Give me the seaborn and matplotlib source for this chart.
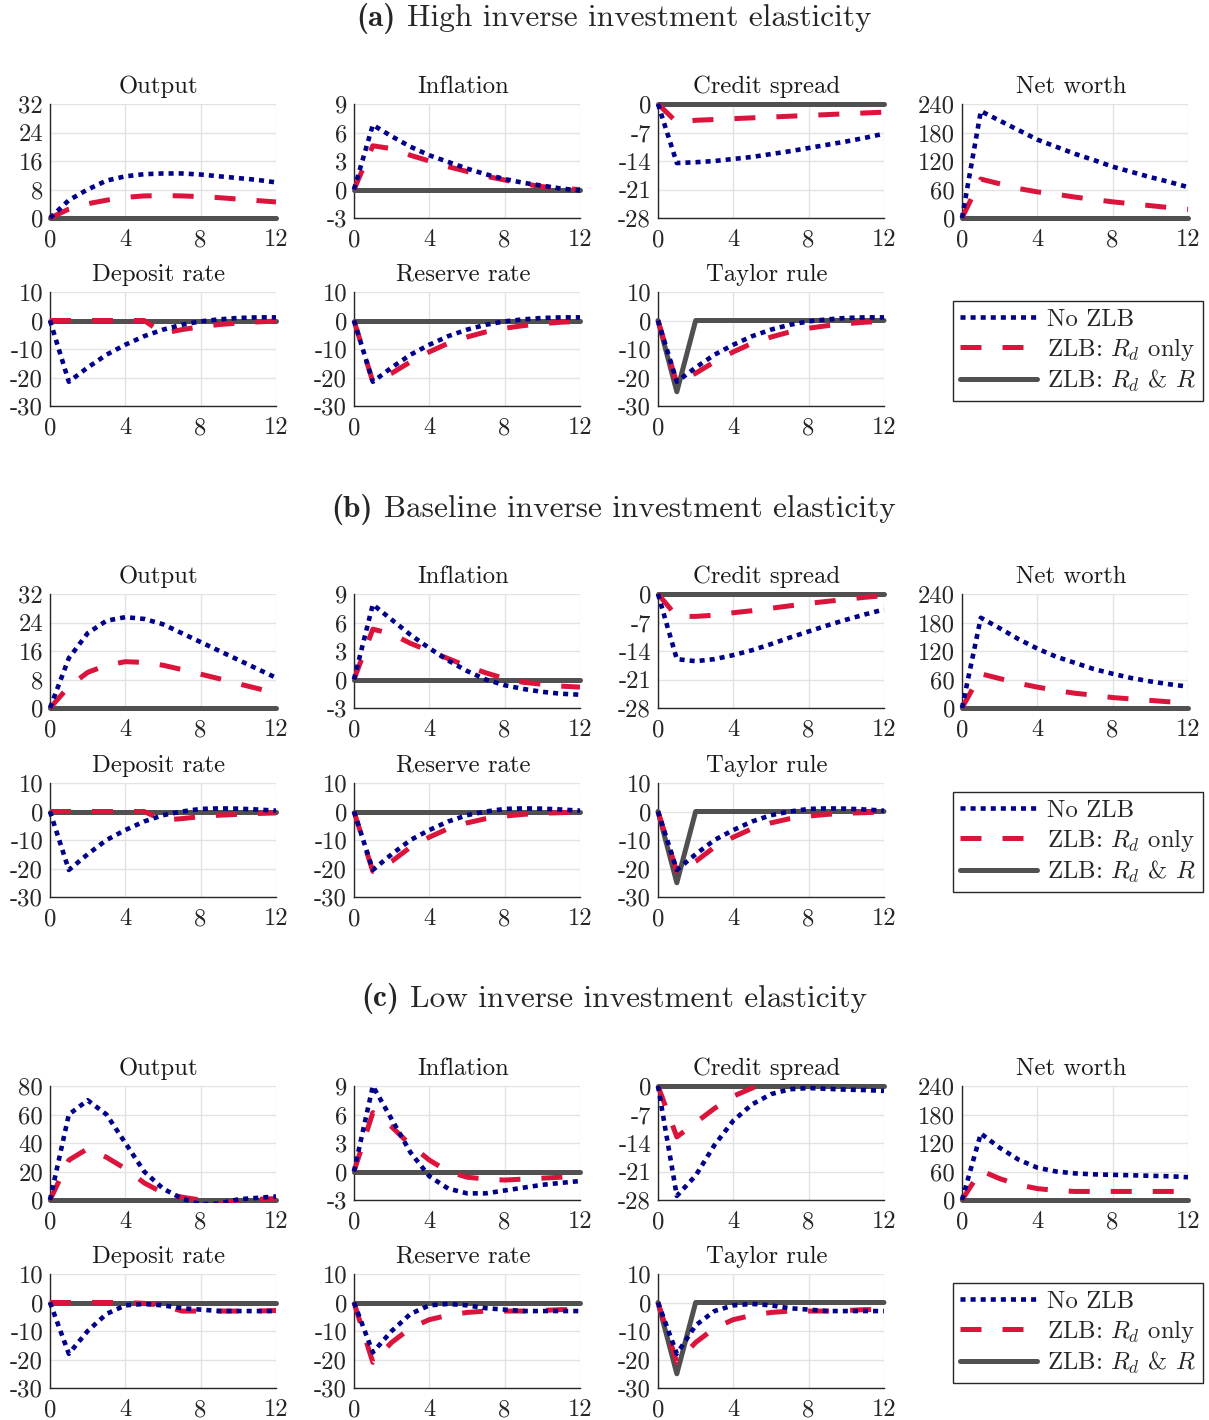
import numpy as np
import pandas as pd
import matplotlib
matplotlib.use("Agg")
import matplotlib.pyplot as plt
from matplotlib.lines import Line2D
from matplotlib.transforms import Bbox, TransformedBbox
import seaborn as sns

sns.set_theme(style="white")
plt.rcParams['font.family'] = ['cmr10', 'DejaVu Serif']
plt.rcParams['mathtext.fontset'] = 'cm'
plt.rcParams['axes.unicode_minus'] = False
plt.rcParams['axes.formatter.use_mathtext'] = True

# ---------------- data ----------------
quarters = list(range(13))
panel_tags = ["(a)", "(b)", "(c)"]
panel_titles = ["High inverse investment elasticity",
                "Baseline inverse investment elasticity",
                "Low inverse investment elasticity"]
variables = ["Output", "Inflation", "Credit spread", "Net worth",
             "Deposit rate", "Reserve rate", "Taylor rule"]
series_labels = ["No ZLB", r"ZLB: $R_d$ only", r"ZLB: $R_d$ & $R$"]

yticks_output_ab = [0, 8, 16, 24, 32]
yticks_output_c = [0, 20, 40, 60, 80]
yticks_inflation = [-3, 0, 3, 6, 9]
yticks_spread = [-28, -21, -14, -7, 0]
yticks_networth = [0, 60, 120, 180, 240]
yticks_rates = [-30, -20, -10, 0, 10]
xticks = [0, 4, 8, 12]

zeros = [0] * 13
taylor_both = [0, -25, 0, 0, 0, 0, 0, 0, 0, 0, 0, 0, 0]

# (a) High inverse investment elasticity
a_output_nozlb = [0, 5, 8, 10.5, 11.7, 12.3, 12.5, 12.5, 12.2, 11.7, 11.2, 10.7, 10]
a_output_rd = [0, 2.5, 4, 5, 5.8, 6.2, 6.3, 6.2, 6, 5.7, 5.3, 4.9, 4.5]
a_infl_nozlb = [0, 6.8, 5.6, 4.5, 3.6, 2.9, 2.2, 1.6, 1.1, 0.7, 0.4, 0.1, -0.1]
a_infl_rd = [0, 4.6, 4.3, 3.6, 3.0, 2.4, 1.9, 1.4, 1.0, 0.6, 0.3, 0.1, 0.0]
a_spread_nozlb = [0, -14.5, -14.3, -14, -13.5, -13, -12.3, -11.6, -10.8, -10, -9.2, -8.3, -7.3]
a_spread_rd = [0, -4.5, -4, -3.8, -3.6, -3.4, -3.2, -3.0, -2.8, -2.6, -2.4, -2.2, -2.0]
a_nw_nozlb = [0, 225, 205, 185, 165, 150, 135, 122, 108, 97, 86, 76, 65]
a_nw_rd = [0, 82, 72, 62, 55, 50, 44, 39, 34, 30, 26, 22, 18]
a_dep_nozlb = [0, -21.5, -16.5, -12, -8.5, -5.5, -3.2, -1.5, -0.3, 0.4, 0.9, 1.1, 1.1]
a_dep_rd = [0, 0, 0, 0, 0, 0, -4.5, -3.2, -2.2, -1.4, -0.9, -0.5, -0.2]
a_res_nozlb = [0, -21.5, -16.5, -12, -8.5, -5.5, -3.2, -1.5, -0.3, 0.4, 0.9, 1.1, 1.1]
a_res_rd = [0, -21.5, -18.5, -14.5, -11, -8, -5.8, -4, -2.7, -1.8, -1.1, -0.6, -0.3]
a_tay_nozlb = [0, -21.5, -16.5, -12, -8.5, -5.5, -3.2, -1.5, -0.3, 0.4, 0.9, 1.1, 1.1]
a_tay_rd = [0, -22, -18.5, -14.5, -11, -8, -5.8, -4, -2.7, -1.8, -1.1, -0.6, -0.3]

# (b) Baseline inverse investment elasticity
b_output_nozlb = [0, 14, 21, 24.5, 25.5, 25, 23.5, 21, 18.5, 16, 13.5, 11, 8.5]
b_output_rd = [0, 6, 10, 12, 13, 12.8, 12, 10.8, 9.5, 8.2, 6.8, 5.5, 4.2]
b_infl_nozlb = [0, 7.9, 6.3, 4.7, 3.3, 2.0, 0.9, 0, -0.6, -1.0, -1.3, -1.5, -1.6]
b_infl_rd = [0, 5.3, 4.8, 3.8, 3.0, 2.2, 1.4, 0.7, 0.1, -0.3, -0.5, -0.7, -0.8]
b_spread_nozlb = [0, -16, -16.5, -16, -15, -13.8, -12.3, -10.7, -9.2, -7.7, -6.3, -5, -3.8]
b_spread_rd = [0, -5.5, -5.5, -5.2, -4.6, -4.1, -3.5, -2.9, -2.3, -1.8, -1.3, -0.8, -0.4]
b_nw_nozlb = [0, 190, 168, 145, 125, 108, 95, 82, 72, 63, 56, 50, 45]
b_nw_rd = [0, 72, 62, 52, 44, 37, 31, 27, 22, 19, 16, 13, 11]
b_dep_nozlb = [0, -20.5, -15, -10, -6.5, -3.5, -1.3, 0, 0.9, 1.1, 1.0, 0.7, 0.3]
b_dep_rd = [0, 0, 0, 0, 0, 0, -3, -2.5, -1.8, -1.3, -1, -0.7, -0.5]
b_res_nozlb = [0, -20.5, -15, -10, -6.5, -3.5, -1.3, 0, 0.9, 1.1, 1.0, 0.7, 0.3]
b_res_rd = [0, -21, -17.5, -12.5, -9, -6, -4, -2.5, -1.6, -1.0, -0.6, -0.4, -0.2]
b_tay_nozlb = [0, -20.5, -15, -10, -6.5, -3.5, -1.3, 0, 0.9, 1.1, 1.0, 0.7, 0.3]
b_tay_rd = [0, -21, -17.5, -12.5, -9, -6, -4, -2.5, -1.6, -1.0, -0.6, -0.4, -0.2]

# (c) Low inverse investment elasticity
c_output_nozlb = [0, 60, 70, 60, 40, 20, 8, 1, -3, -2.5, 0.5, 1.5, 2.5]
c_output_rd = [0, 28, 36, 30, 22, 12, 5, 2, 0, -2.5, -1, 0.5, 1]
c_infl_nozlb = [0, 9, 5.5, 2.0, -0.5, -1.8, -2.3, -2.3, -2, -1.7, -1.4, -1.2, -1.0]
c_infl_rd = [0, 6.2, 4.7, 2.8, 1.2, 0, -0.6, -0.8, -0.9, -0.8, -0.7, -0.6, -0.5]
c_spread_nozlb = [0, -27, -22, -14.5, -8.5, -4.5, -2.0, -0.8, -0.5, -0.7, -0.9, -1.0, -1.2]
c_spread_rd = [0, -12.5, -9, -5.5, -2.5, -0.5, 1.5, 2, 2, 2, 2, 2, 2]
c_nw_nozlb = [0, 140, 110, 85, 68, 60, 56, 54, 53, 52, 51, 50, 48]
c_nw_rd = [0, 62, 45, 32, 24, 20, 18, 18, 18, 18, 18, 18, 18]
c_dep_nozlb = [0, -18, -10, -4, -1, -0.5, -1, -2, -2.5, -3, -3, -3, -3]
c_dep_rd = [0, 0, 0, 0, 0, -0.3, -1, -3, -3, -3, -3, -3, -2.8]
c_res_nozlb = [0, -17.5, -10, -4, -1, -0.5, -1, -2, -2.5, -3, -3, -3, -3]
c_res_rd = [0, -21, -14, -9, -6, -4.5, -3.5, -3, -3, -3, -2.8, -2.5, -2.5]
c_tay_nozlb = [0, -18, -8, -3, -1, -0.5, -1, -2, -2.5, -3, -3, -3, -3]
c_tay_rd = [0, -21, -14, -9, -6, -4.5, -3.5, -3, -3, -3, -2.8, -2.5, -2.5]

panels = [
    {"Output": (a_output_nozlb, a_output_rd, zeros), "Inflation": (a_infl_nozlb, a_infl_rd, zeros),
     "Credit spread": (a_spread_nozlb, a_spread_rd, zeros), "Net worth": (a_nw_nozlb, a_nw_rd, zeros),
     "Deposit rate": (a_dep_nozlb, a_dep_rd, zeros), "Reserve rate": (a_res_nozlb, a_res_rd, zeros),
     "Taylor rule": (a_tay_nozlb, a_tay_rd, taylor_both)},
    {"Output": (b_output_nozlb, b_output_rd, zeros), "Inflation": (b_infl_nozlb, b_infl_rd, zeros),
     "Credit spread": (b_spread_nozlb, b_spread_rd, zeros), "Net worth": (b_nw_nozlb, b_nw_rd, zeros),
     "Deposit rate": (b_dep_nozlb, b_dep_rd, zeros), "Reserve rate": (b_res_nozlb, b_res_rd, zeros),
     "Taylor rule": (b_tay_nozlb, b_tay_rd, taylor_both)},
    {"Output": (c_output_nozlb, c_output_rd, zeros), "Inflation": (c_infl_nozlb, c_infl_rd, zeros),
     "Credit spread": (c_spread_nozlb, c_spread_rd, zeros), "Net worth": (c_nw_nozlb, c_nw_rd, zeros),
     "Deposit rate": (c_dep_nozlb, c_dep_rd, zeros), "Reserve rate": (c_res_nozlb, c_res_rd, zeros),
     "Taylor rule": (c_tay_nozlb, c_tay_rd, taylor_both)},
]

def yticks_for(panel_idx, var):
    if var == "Output":
        return yticks_output_c if panel_idx == 2 else yticks_output_ab
    return {"Inflation": yticks_inflation, "Credit spread": yticks_spread,
            "Net worth": yticks_networth}.get(var, yticks_rates)

# ---------------- styling ----------------
W, H = 1209, 1420
fig = plt.figure(figsize=(W / 100, H / 100), dpi=100)
renderer = fig.canvas.get_renderer()
FS = 17.8
TFS = 22.5

col_left = [50, 354, 658, 962]
ax_w, ax_h = 226, 114
row_tops = [[104, 292], [594, 783], [1086, 1274]]
title_y = [18, 509, 999]
legend_tops = [301, 792, 1283]

c_blue = "#00008B"
c_red = "#DC143C"
c_gray = "#505050"
styles = [
    dict(color=c_blue, lw=3.3, linestyle=(0, (1.1, 1.1))),
    dict(color=c_red, lw=3.6, linestyle=(0, (4.2, 4.2))),
    dict(color=c_gray, lw=3.6, linestyle="-"),
]
# clip lines like MATLAB: data outside the limits hidden, but lines on the edge keep full width
ex, ey = 4.0 / ax_w, 3.0 / ax_h

for p, panel in enumerate(panels):
    # panel title: bold tag + regular text, centred as a whole
    yfig = 1 - title_y[p] / H
    t1 = fig.text(0, yfig, panel_tags[p], ha="left", va="center", fontsize=TFS,
                  family=["cmb10", "DejaVu Serif"])
    t2 = fig.text(0, yfig, panel_titles[p], ha="left", va="center", fontsize=TFS)
    w1 = t1.get_window_extent(renderer).width
    w2 = t2.get_window_extent(renderer).width
    gap = 0.36 * TFS * 100 / 72
    total = w1 + gap + w2
    x0 = 614 - total / 2
    t1.set_x(x0 / W)
    t2.set_x((x0 + w1 + gap) / W)

    for k, var in enumerate(variables):
        r, c = divmod(k, 4)
        left = col_left[c] / W
        bottom = 1 - (row_tops[p][r] + ax_h) / H
        ax = fig.add_axes([left, bottom, ax_w / W, ax_h / H])
        yt = yticks_for(p, var)
        nozlb, rd, both = panel[var]
        # solid first, then dashed, then dotted on top
        for vals, st, z in ((both, styles[2], 2), (rd, styles[1], 3), (nozlb, styles[0], 4)):
            sns.lineplot(x=quarters, y=vals, ax=ax, color=st["color"], lw=st["lw"],
                         linestyle=st["linestyle"], zorder=z)
        clip = TransformedBbox(Bbox([[-ex, -ey], [1 + ex, 1 + ey]]), ax.transAxes)
        for ln in ax.get_lines():
            ln.set_clip_box(clip)
        ax.set_xlim(0, 12)
        ax.set_ylim(yt[0], yt[-1])
        ax.set_xticks(xticks)
        ax.set_xticklabels([str(v) for v in xticks])
        ax.set_yticks(yt)
        ax.set_yticklabels([str(v) for v in yt])
        ax.grid(True, color="#E3E3E3", lw=1.0)
        ax.set_axisbelow(True)
        for s in ("top", "right"):
            ax.spines[s].set_visible(False)
        for s in ("left", "bottom"):
            ax.spines[s].set_color("#262626")
            ax.spines[s].set_linewidth(1.0)
            ax.spines[s].set_zorder(1)
        ax.tick_params(axis="both", length=0, labelsize=FS, colors="#262626", pad=5)
        ax.tick_params(axis="x", pad=8)
        ax.set_title(var, fontsize=FS, pad=8, color="#1a1a1a", x=0.482)
        ax.set_xlabel("")
        ax.set_ylabel("")

    handles = [Line2D([0], [0], color=s["color"], lw=s["lw"], linestyle=s["linestyle"]) for s in styles]
    leg = fig.legend(handles, series_labels, loc="upper left",
                     bbox_to_anchor=(953 / W, 1 - legend_tops[p] / H),
                     fontsize=FS, frameon=True, fancybox=False, framealpha=1,
                     edgecolor="#262626", handlelength=3.1, handletextpad=0.4,
                     labelspacing=0.2, borderpad=0.3, borderaxespad=0)
    leg.get_frame().set_linewidth(1.0)

fig.savefig("out.png", dpi=100, facecolor="white")
